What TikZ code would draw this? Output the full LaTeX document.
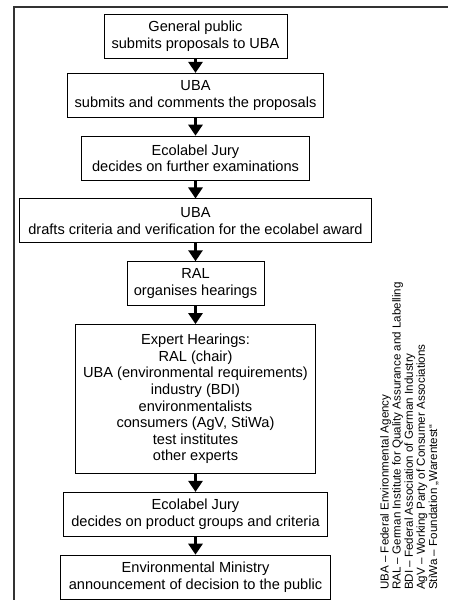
\documentclass[tikz,border=0pt]{standalone}
\usepackage{fontspec}
\setmainfont{Liberation Sans}
\usetikzlibrary{positioning,arrows,arrows.meta}
\usepackage{xcolor}
\definecolor{framegray}{HTML}{333333}

\begin{document}
\begin{tikzpicture}[x=1pt,y=1pt]

    \tikzstyle{thickarrow}=[line width=3pt,-{Triangle[width=14pt,length=11pt]}]
    \tikzstyle{s}=[draw, rectangle, line width=0.8pt, inner sep=0pt, minimum height=44pt, align=center, font=\fontsize{14.6}{16.6}\selectfont]
    \tikzstyle{legendtext}=[rotate=90, anchor=north west, inner sep=0pt, align=left, font=\fontsize{11.6}{12.1}\selectfont]

    \useasboundingbox (0,0) rectangle (448,600);
    \draw[line width=1.3pt, framegray] (14,0) -- (14,593) -- (448,593);

    \begin{scope}[node distance=18pt]

      \node (publicProp) at (195.5,563.5)[s, minimum width=183pt]{General public\\submits proposals to UBA};
      \node (ubaComment) [below=14pt of publicProp, s, minimum width=256pt]{UBA\\submits and comments the proposals};
      \node (juryExam) [below=of ubaComment, s, minimum width=228pt]{Ecolabel Jury\\decides on further examinations};
      \node (ubaDraft) [below=of juryExam, s, minimum width=352pt]{UBA\\drafts criteria and verification for the ecolabel award};
      \node (ralHearing) [below=of ubaDraft, s, minimum width=137pt]{RAL\\organises hearings};
      \node (expertHearing) [below=of ralHearing, s, minimum width=240pt, minimum height=149pt]{Expert Hearings:\\RAL (chair)\\UBA (environmental requirements)\\industry (BDI)\\environmentalists\\consumers (AgV, StiWa)\\test institutes\\other experts};
      \node (juryDecide) [below=of expertHearing, s, minimum width=264pt]{Ecolabel Jury\\decides on product groups and criteria};
      \node (ministry) [below=of juryDecide, s, minimum width=270pt]{Environmental Ministry\\announcement of decision to the public};

      \draw[thickarrow] (publicProp) -- (ubaComment);
      \draw[thickarrow] (ubaComment) -- (juryExam);
      \draw[thickarrow] (juryExam) -- (ubaDraft);
      \draw[thickarrow] (ubaDraft) -- (ralHearing);
      \draw[thickarrow] (ralHearing) -- (expertHearing);
      \draw[thickarrow] (expertHearing) -- (juryDecide);
      \draw[thickarrow] (juryDecide) -- (ministry);

    \end{scope}

    % abbreviations
    \node (legend) at (380,10)[legendtext]{UBA -- Federal Environmental Agency\\RAL -- German Institute for Quality Assurance and Labelling\\BDI -- Federal Association of German Industry\\AgV -- Working Party of Consumer Associations\\StiWa -- Foundation „Warentest“};

\end{tikzpicture}
\end{document}
